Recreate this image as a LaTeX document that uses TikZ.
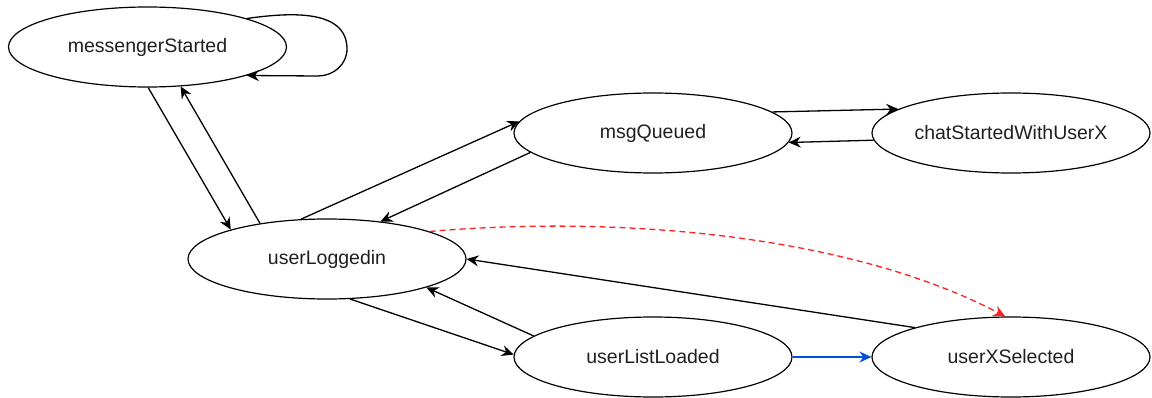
\documentclass[tikz,border=0pt]{standalone}
\usepackage{fontspec}
\setmainfont{Liberation Sans}
\usetikzlibrary{arrows.meta,shapes.geometric}
\definecolor{edgered}{HTML}{FF2020}
\definecolor{edgeblue}{HTML}{0050E0}
\begin{document}
\begin{tikzpicture}[x=1pt,y=1pt,
  state/.style={ellipse,draw,line width=1.2pt,inner sep=0pt,
    minimum width=278pt,minimum height=80pt,
    font=\fontsize{19.5}{23}\selectfont,text=black!88},
  arr/.style={line width=1.3pt,-{Stealth[length=12pt,width=11pt,inset=4pt]}},
  dasharr/.style={arr,draw=edgered,dash pattern=on 6pt off 4pt,
    -{Stealth[length=12pt,width=11pt,inset=4pt,fill=edgered]}},
  bluearr/.style={arr,draw=edgeblue}]
\useasboundingbox (0,0) rectangle (1152,397);

% states
\node[state] (ms) at (147.5,350) {messengerStarted};
\node[state] (mq) at (653,264) {msgQueued};
\node[state] (cs) at (1011,264) {chatStartedWithUserX};
\node[state] (ul) at (327,138) {userLoggedin};
\node[state] (ll) at (653,40) {userListLoaded};
\node[state] (xs) at (1011,40) {userXSelected};

% self loop on messengerStarted
\draw[arr] (ms.16) to[out=8,in=90] (347,348) to[out=-90,in=0] (318,321) -- (ms.-16);

% transitions
\draw[arr] (ms.-89) -- (ul.163);
\draw[arr] (ul.152) -- (ms.-50);
\draw[arr] (ul.123) -- (mq.175);
\draw[arr] (mq.-171) -- (ul.35);
\draw[arr] (mq.10) -- (cs.168);
\draw[arr] (cs.-177) -- (mq.-4);
\draw[arr] (ul.-60) -- (ll.179);
\draw[arr] (ll.170) -- (ul.-16);
\draw[arr] (xs.163) -- (ul.0);
\draw[bluearr] (ll.0) -- (xs.180);
\draw[dasharr] (ul.15) .. controls (620,182) and (850,162) .. (xs.98);
\end{tikzpicture}
\end{document}
